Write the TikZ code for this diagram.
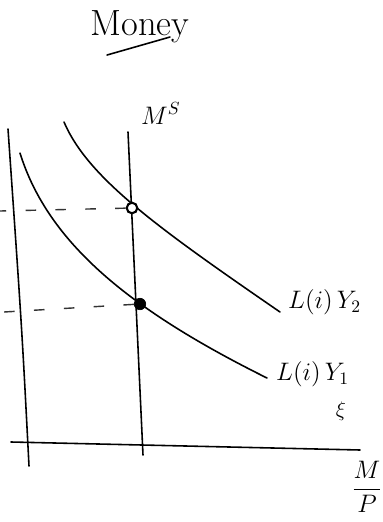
\documentclass[tikz,border=0pt]{standalone}
\usepackage{amsmath}
\usetikzlibrary{positioning}

\begin{document}
\begin{tikzpicture}[x=0.02cm, y=-0.02cm,
    every node/.style={font=\Large},
    axis/.style={draw=black, line width=0.9pt, line cap=round},
    curve/.style={draw=black, line width=0.9pt, line cap=round},
    guide/.style={draw=black!80, line width=0.8pt, dash pattern=on 6pt off 11pt},
    eqopen/.style={circle, draw=black, line width=1.2pt, fill=white, inner sep=0pt, minimum size=6pt},
    eqfull/.style={circle, draw=black, fill=black, inner sep=0pt, minimum size=6.5pt},
  ]
    \useasboundingbox (0,0) rectangle (383,522);
    % title
    \node[font=\huge] (title) at (140,27) {Money};
    \draw[curve] ([shift={(-33,28)}]title.center) -- ([shift={(30,10)}]title.center);
    % axes
    \coordinate (ytop) at (8,129);
    \coordinate (ybot) at (29,466);
    \coordinate (xleft) at (11,442);
    \coordinate (xright) at (360,450);
    \draw[axis] (ytop) .. controls (22,330) .. (ybot);
    \draw[axis] (xleft) -- (xright);
    % money supply
    \coordinate (mstop) at (128,132);
    \coordinate (msbot) at (143,455);
    \draw[axis] (mstop) -- (msbot);
    \node[above right=1pt and 4pt of mstop] (mslab) {$M^S$};
    % money demand curves
    \draw[curve] (64,122) .. controls (88,178) and (158,228) .. (280,312);
    \draw[curve] (20,153) .. controls (48,243) and (130,310) .. (267,378);
    \node[anchor=west] (ltwo) at (282,302) {$L(i)\,Y_2$};
    \node[anchor=west] (lone) at (270,374) {$L(i)\,Y_1$};
    \node[font=\large] (xi) at (341,411) {$\xi$};
    % equilibria
    \node[eqopen] (eqtwo) at (132,208) {};
    \node[eqfull] (eqone) at (140,304) {};
    \coordinate (itwo) at (0,211);
    \coordinate (ione) at (4,312);
    \draw[guide] (eqtwo) -- (itwo);
    \draw[guide] (eqone) -- (ione);
    % x label
    \node (mp) at (367,487) {$\dfrac{M}{P}$};
\end{tikzpicture}
\end{document}
